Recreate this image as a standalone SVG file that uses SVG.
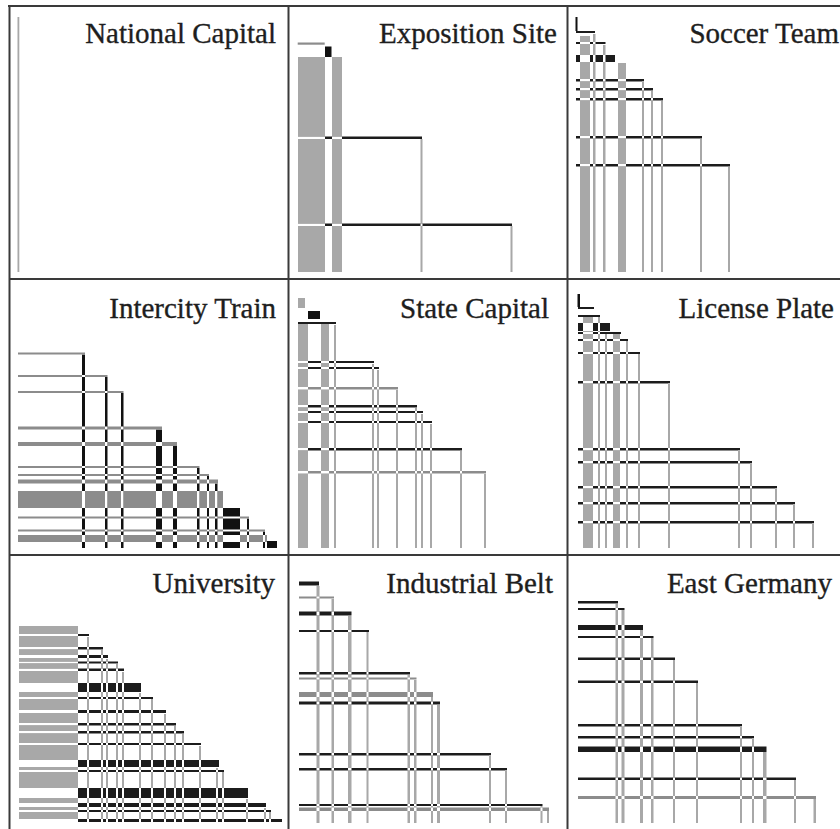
<svg xmlns="http://www.w3.org/2000/svg" xmlns:xlink="http://www.w3.org/1999/xlink" width="840" height="829" viewBox="0 0 840 829">
<style>
.t{font-family:"Liberation Serif","Times New Roman",serif;font-size:29px;fill:#1e1e1e;stroke:#1e1e1e;stroke-width:0.35;text-anchor:end}
.fr{stroke:#3a3a3a;stroke-width:2;fill:none}
.vg{fill:#a8a8a8}
.hd{fill:#1c1c1c}
.hg{fill:#8c8c8c}
.bk{fill:#111}
.wh{fill:#fff}
</style>
<defs>
<path id="v2" d="M298 57h27v215h-27z M332 57h10v215h-10z M420.5 139h2v133h-2z M510.5 226h2v46h-2z"/>
<path id="h2" d="M298 136.5h124v2.5h-124z M298 223.5h214v2.5h-214z"/>
<path id="v3" d="M580 36h10v236h-10z M593 34h2.5v238h-2.5z M603 45h2.5v227h-2.5z M618 63h8v209h-8z M642 81h2v191h-2z M651 91h2v181h-2z M661 101h2v171h-2z M700 139h2v133h-2z M728 167h2v105h-2z"/>
<path id="h3" d="M576 31h19v2h-19z M576 42h29.5v2h-29.5z M576 55h39v7h-39z M576 79h68v2.5h-68z M576 88h77v2.5h-77z M576 98h87v2.5h-87z M576 136h126v2.5h-126z M576 164h154v2.5h-154z"/>
<path id="h4" d="M18 352.5h67v2h-67z M18 375h89.5v2h-89.5z M18 391h105.5v2h-105.5z M18 426.5h144v3h-144z M18 442h159v4h-159z M18 466h181.5v2h-181.5z M18 474h191v2h-191z M18 479.5h200v4h-200z M18 491h205v17h-205z M18 516.5h231v2h-231z M18 529.5h247v2h-247z M18 535h249v7h-249z"/>
<path id="v4" d="M82 354.5h3v193.5h-3z M105 377h2.5v171h-2.5z M121 393h2.5v155h-2.5z M156 429.5h6v118.5h-6z M173 446h4v102h-4z M197 468h2.5v80h-2.5z M207 476h2v72h-2z M215 483.5h2.5v64.5h-2.5z M223 508h17v40h-17z M247 518.5h2v29.5h-2z M263 531.5h2v16.5h-2z M267 541h10v7h-10z"/>
<path id="v5" d="M298 324h10v224h-10z M321 324h8v224h-8z M334 325h2v223h-2z M372 364h2v184h-2z M377 370h2v178h-2z M396 390h2v158h-2z M415 408h2v140h-2z M421 414h2v134h-2z M430 424h2v124h-2z M460 451h2v97h-2z M484 474h2v74h-2z"/>
<path id="h5" d="M298 322h38v2h-38z M298 361h76v2h-76z M298 367h81v2h-81z M298 405h119v2.5h-119z M298 411h125v2h-125z M298 421h134v2h-134z M298 448h164v2.5h-164z"/>
<path id="g5" d="M298 387h100v2.5h-100z M298 471h188v2.5h-188z"/>
<path id="v6" d="M583 317h10v231h-10z M598 317h2v231h-2z M605 334h2v214h-2z M613 334h7v214h-7z M626 341h2v207h-2z M638 354h2v194h-2z M668 383h2v165h-2z M738 450h2v98h-2z M750 463h2v85h-2z M775 488h2v60h-2z M793 504h2v44h-2z M812 523h2v25h-2z"/>
<path id="h6" d="M578 307h16v2h-16z M578 315h22v2h-22z M578 323h32v8h-32z M578 332h43v2h-43z M578 339h50v2h-50z M578 352h62v2h-62z M578 381h92v2.5h-92z M578 448h162v2.5h-162z M578 461h174v2.5h-174z M578 486h199v2.5h-199z M578 502h217v2.5h-217z M578 521h236v2.5h-236z"/>
<path id="v7" d="M19 626h59v196h-59z M87 637h2v185h-2z M101 650h2v172h-2z M106 659h2v163h-2z M116 664h2v158h-2z M122 672h2v150h-2z M139 693h2v129h-2z M151 699h2v123h-2z M164 714h2v108h-2z M174 726h2v96h-2z M182 734h2v88h-2z M199 746h2v76h-2z M216 768h2v54h-2z M222 772h2v50h-2z M246 799h2v23h-2z M264 808h2v14h-2z M269 812h2v10h-2z"/>
<path id="h7" d="M19 634h70v2h-70z M19 647h84v2.5h-84z M19 655h89v3h-89z M19 661.5h99v2h-99z M19 668.5h105v2.5h-105z M19 683h122v9h-122z M19 697h134v2h-134z M19 710h147v3h-147z M19 723h157v2.5h-157z M19 731h165v2.5h-165z M19 743h182v2h-182z M19 760h200v7h-200z M19 770h205v2h-205z M19 788h229v10h-229z M19 803h247v4h-247z M19 810h252v2h-252z M19 819h263v3h-263z"/>
<path id="v8" d="M316.5 586h3v237h-3z M331.5 599h2.5v224h-2.5z M348 616h3.5v207h-3.5z M366.5 632h2v191h-2z M407.5 675h2.5v148h-2.5z M414 680h2.5v143h-2.5z M431 697h2v126h-2z M437 705h3v118h-3z M489 755h2v68h-2z M505 770h2v53h-2z M540.5 806h2v17h-2z M547 811h2v12h-2z"/>
<path id="h8" d="M299 581.5h20v4h-20z M299 611.5h52.5v4h-52.5z M299 630h70v2h-70z M299 672h111v2.5h-111z M299 701.5h141v3h-141z M299 753h192v2.5h-192z M299 768h208v2.5h-208z M299 804h243.5v2h-243.5z"/>
<path id="g8" d="M299 596.5h35v2h-35z M299 677.5h117.5v2h-117.5z M299 692h134v5h-134z M299 807.5h250v3.5h-250z"/>
<path id="v9" d="M615.5 604h2.5v219h-2.5z M621.5 610h3v213h-3z M640 630h3v193h-3z M651 638h2.5v185h-2.5z M673 660h2v163h-2z M696 683h2v140h-2z M740 726h2v97h-2z M752 738h2v85h-2z M763 752h3.5v71h-3.5z M794 780h2v43h-2z M813.5 799h2.5v24h-2.5z"/>
<path id="h9" d="M578 601h40v2.5h-40z M578 608h46.5v2h-46.5z M578 625h65v5h-65z M578 636h75.5v2h-75.5z M578 657.5h97v2.5h-97z M578 680.5h120v2.5h-120z M578 724h164v2.5h-164z M578 736h176v2.5h-176z M578 746.5h188.5v5.5h-188.5z M578 777.5h218v2.5h-218z"/>
<path id="g9" d="M578 796h238v3h-238z"/>
<clipPath id="c2"><use href="#v2"/></clipPath>
<clipPath id="c3"><use href="#v3"/></clipPath>
<clipPath id="c4"><use href="#v4"/></clipPath>
<clipPath id="c5"><use href="#v5"/></clipPath>
<clipPath id="c6"><use href="#v6"/></clipPath>
<clipPath id="c7"><use href="#v7"/></clipPath>
<clipPath id="c8"><use href="#v8"/></clipPath>
<clipPath id="c9"><use href="#v9"/></clipPath>
</defs>
<rect width="840" height="829" fill="#fff"/>

<g id="panel-national-capital">
<rect class="vg" x="17.5" y="17" width="1.8" height="255"/>
<text class="t" x="276" y="43">National Capital</text>
</g>

<g id="panel-exposition-site">
<rect class="hg" x="297.7" y="42.5" width="27" height="2.2"/>
<rect class="bk" x="325" y="46.5" width="6.5" height="10.5"/>
<use href="#v2" class="vg"/>
<use href="#h2" class="hd"/>
<use href="#h2" class="wh" clip-path="url(#c2)"/>
<text class="t" x="557" y="43">Exposition Site</text>
</g>

<g id="panel-soccer-team">
<rect class="bk" x="575.5" y="17" width="2" height="14"/>
<use href="#v3" class="vg"/>
<use href="#h3" class="hd"/>
<use href="#h3" class="wh" clip-path="url(#c3)"/>
<text class="t" x="839" y="43">Soccer Team</text>
</g>

<g id="panel-intercity-train">
<use href="#h4" class="hg"/>
<use href="#v4" class="bk"/>
<use href="#h4" class="wh" clip-path="url(#c4)"/>
<text class="t" x="276" y="318">Intercity Train</text>
</g>

<g id="panel-state-capital">
<rect class="vg" x="298" y="298" width="7" height="10"/>
<rect class="bk" x="308" y="311" width="12" height="8"/>
<use href="#v5" class="vg"/>
<use href="#h5" class="hd"/>
<use href="#g5" class="hg"/>
<use href="#h5" class="wh" clip-path="url(#c5)"/>
<use href="#g5" class="wh" clip-path="url(#c5)"/>
<text class="t" x="549" y="318">State Capital</text>
</g>

<g id="panel-license-plate">
<rect class="bk" x="577.5" y="294" width="2.5" height="13"/>
<use href="#v6" class="vg"/>
<use href="#h6" class="hd"/>
<use href="#h6" class="wh" clip-path="url(#c6)"/>
<text class="t" x="834" y="318">License Plate</text>
</g>

<g id="panel-university">
<use href="#v7" class="vg"/>
<use href="#h7" class="hd"/>
<use href="#h7" class="wh" clip-path="url(#c7)"/>
<text class="t" x="275" y="593">University</text>
</g>

<g id="panel-industrial-belt">
<use href="#v8" class="vg"/>
<use href="#h8" class="hd"/>
<use href="#g8" class="hg"/>
<use href="#h8" class="wh" clip-path="url(#c8)"/>
<use href="#g8" class="wh" clip-path="url(#c8)"/>
<text class="t" x="553" y="593">Industrial Belt</text>
</g>

<g id="panel-east-germany">
<use href="#v9" class="vg"/>
<use href="#h9" class="hd"/>
<use href="#g9" class="hg"/>
<use href="#h9" class="wh" clip-path="url(#c9)"/>
<use href="#g9" class="wh" clip-path="url(#c9)"/>
<text class="t" x="832" y="593">East Germany</text>
</g>

<g id="frame" class="fr">
<path d="M8 6H848 M9.5 6V829 M288.5 6V829 M567.5 6V829 M9 279H848 M9 555H848"/>
</g>
</svg>
